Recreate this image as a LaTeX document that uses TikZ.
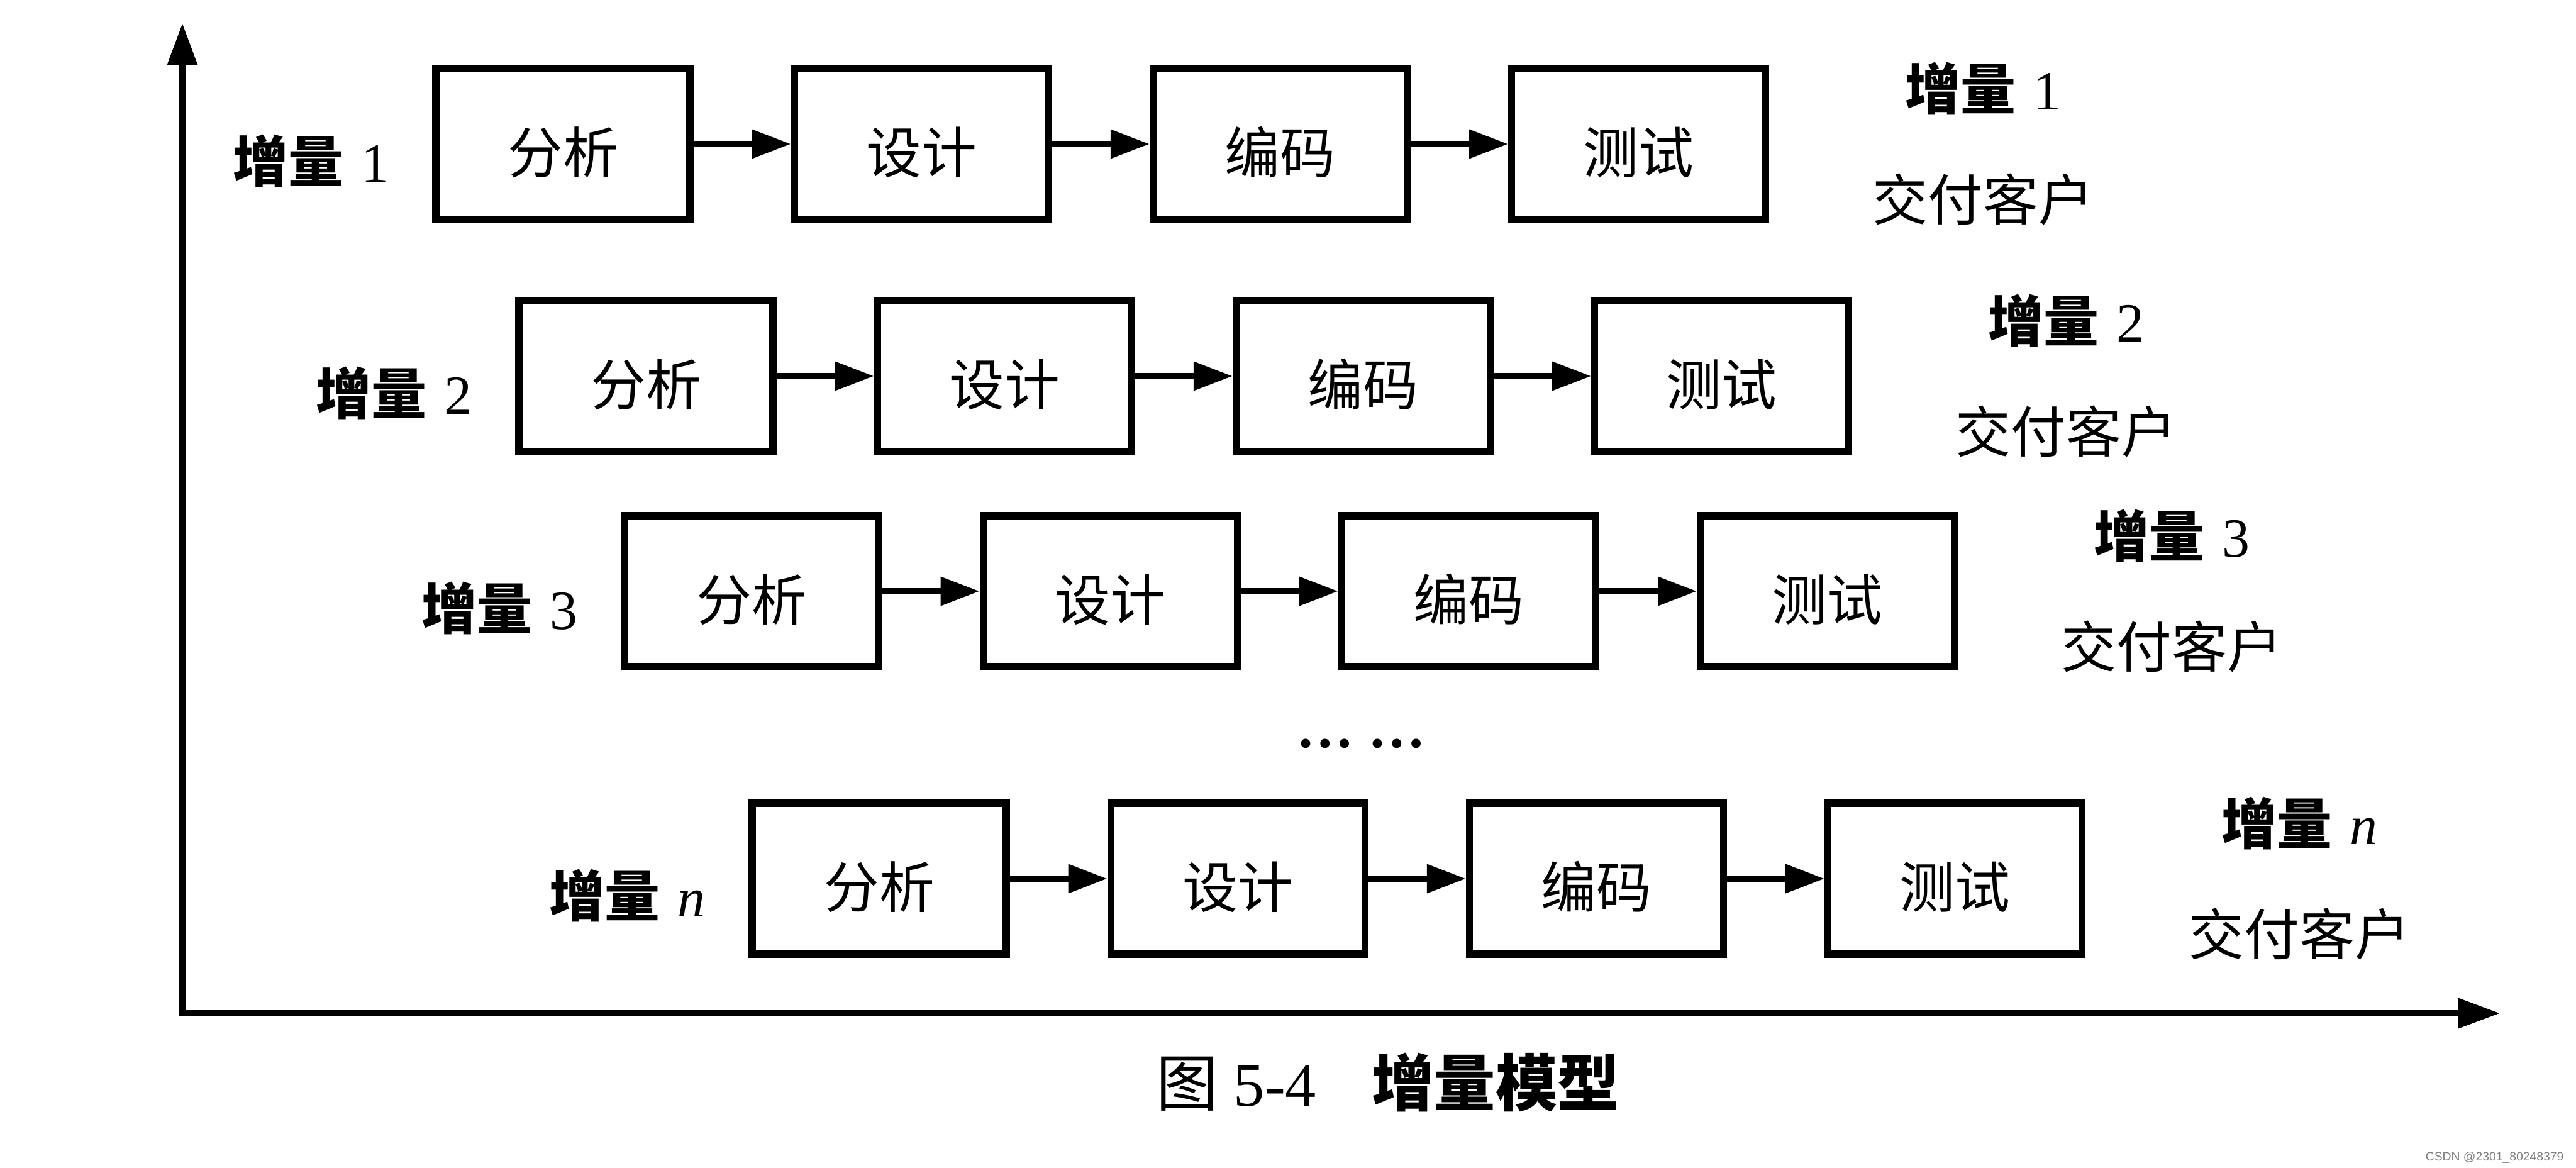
\documentclass[tikz,border=0pt]{standalone}
\usepackage{fontspec}
\setmainfont{Liberation Serif}
\newfontfamily\cjk{Noto Sans CJK SC}
\newfontfamily\wmfont{Liberation Sans}
\usetikzlibrary{arrows.meta, positioning, calc}

\newcommand{\zl}[1]{{\cjk\bfseries 增量}\hspace{0.32em}#1}

\tikzset{
  stage/.style={draw, line width=3.2pt, minimum width=4.04cm, minimum height=2.40cm, inner sep=0pt,
    text height=0.92cm, text depth=0cm, font=\cjk\fontsize{25}{30}\selectfont},
  flow/.style={line width=2.8pt, -{Triangle[length=6.2mm, width=4.4mm]}},
  axis/.style={line width=2.6pt, line join=miter, {Triangle[length=6.6mm, width=4.6mm]}-{Triangle[length=6.6mm, width=4.6mm]}},
  lbl/.style={inner sep=0pt, font=\fontsize{25}{30}\selectfont},
  deliver/.style={inner sep=0pt, font=\cjk\fontsize{25}{30}\selectfont},
}

\begin{document}
\begin{tikzpicture}
  \useasboundingbox (0,0) rectangle (40.96,-18.56);

  % Axes
  \coordinate (ytop) at (2.90,-0.37);
  \coordinate (o) at (2.90,-16.11);
  \coordinate (xend) at (39.75,-16.11);
  \draw[axis] (ytop) -- (o) -- (xend);

  % Increment 1
  \node[stage] (fx1) at (8.95,-2.29) {分析};
  \node[stage, right=1.55cm of fx1] (sj1) {设计};
  \node[stage, right=1.55cm of sj1] (bm1) {编码};
  \node[stage, right=1.55cm of bm1] (cs1) {测试};
  \node[lbl] (zl1) at ($(fx1.west)+(-1.93,-0.27)$) {\zl{1}};
  \node[lbl] (jf1) at ($(cs1.east)+(3.40,0.88)$) {\zl{1}};
  \node[deliver] (kh1) at ($(cs1.east)+(3.40,-0.88)$) {交付客户};
  \draw[flow] (fx1) -- (sj1);
  \draw[flow] (sj1) -- (bm1);
  \draw[flow] (bm1) -- (cs1);

  % Increment 2
  \node[stage] (fx2) at (10.27,-5.98) {分析};
  \node[stage, right=1.55cm of fx2] (sj2) {设计};
  \node[stage, right=1.55cm of sj2] (bm2) {编码};
  \node[stage, right=1.55cm of bm2] (cs2) {测试};
  \node[lbl] (zl2) at ($(fx2.west)+(-1.93,-0.27)$) {\zl{2}};
  \node[lbl] (jf2) at ($(cs2.east)+(3.40,0.88)$) {\zl{2}};
  \node[deliver] (kh2) at ($(cs2.east)+(3.40,-0.88)$) {交付客户};
  \draw[flow] (fx2) -- (sj2);
  \draw[flow] (sj2) -- (bm2);
  \draw[flow] (bm2) -- (cs2);

  % Increment 3
  \node[stage] (fx3) at (11.95,-9.40) {分析};
  \node[stage, right=1.55cm of fx3] (sj3) {设计};
  \node[stage, right=1.55cm of sj3] (bm3) {编码};
  \node[stage, right=1.55cm of bm3] (cs3) {测试};
  \node[lbl] (zl3) at ($(fx3.west)+(-1.93,-0.27)$) {\zl{3}};
  \node[lbl] (jf3) at ($(cs3.east)+(3.40,0.88)$) {\zl{3}};
  \node[deliver] (kh3) at ($(cs3.east)+(3.40,-0.88)$) {交付客户};
  \draw[flow] (fx3) -- (sj3);
  \draw[flow] (sj3) -- (bm3);
  \draw[flow] (bm3) -- (cs3);

  % ellipsis
  \node[lbl, anchor=base, font=\bfseries\fontsize{26}{30}\selectfont] (dots) at (21.64,-11.88) {…\hspace{0.25em}…};

  % Increment n
  \node[stage] (fxn) at (13.98,-13.97) {分析};
  \node[stage, right=1.55cm of fxn] (sjn) {设计};
  \node[stage, right=1.55cm of sjn] (bmn) {编码};
  \node[stage, right=1.55cm of bmn] (csn) {测试};
  \node[lbl] (zln) at ($(fxn.west)+(-1.93,-0.27)$) {\zl{\textit{n}}};
  \node[lbl] (jfn) at ($(csn.east)+(3.40,0.88)$) {\zl{\textit{n}}};
  \node[deliver] (khn) at ($(csn.east)+(3.40,-0.88)$) {交付客户};
  \draw[flow] (fxn) -- (sjn);
  \draw[flow] (sjn) -- (bmn);
  \draw[flow] (bmn) -- (csn);

  % Caption
  \node[inner sep=0pt, font=\fontsize{28}{32}\selectfont] (cap) at (22.07,-17.21) {{\cjk 图} 5-4\hspace{0.9em}{\cjk\bfseries 增量模型}};

  \node[anchor=base east, inner sep=0pt, text=gray, font=\wmfont\fontsize{5.5}{6.5}\selectfont] (wm) at (40.77,-18.45) {CSDN @2301\_80248379};
\end{tikzpicture}
\end{document}
